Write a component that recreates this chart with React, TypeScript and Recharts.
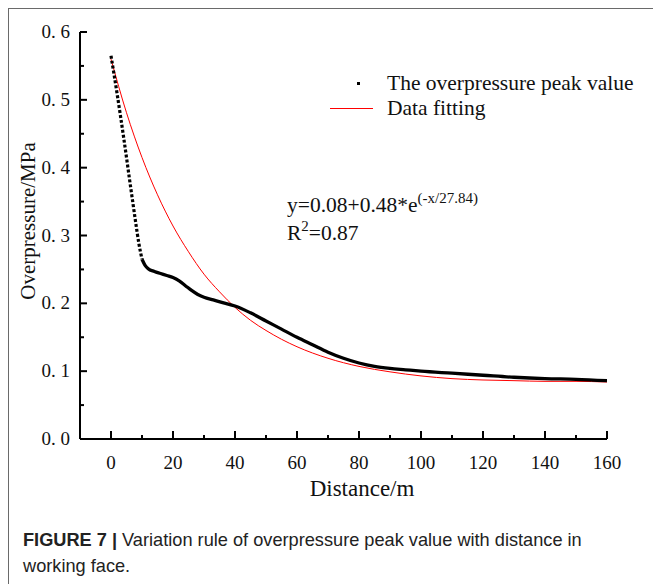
import React from 'react';
import { LineChart, Line, XAxis, YAxis } from 'recharts';

const peakDistance = [0, 1, 2, 3, 4, 5, 6, 7, 8, 9, 10, 11, 12, 14, 16, 18, 20, 22, 24, 26, 28, 30, 33, 36, 40, 45, 50, 55, 60, 65, 70, 75, 80, 85, 90, 95, 100, 110, 120, 130, 140, 150, 160];
const peakValue = [0.565, 0.537, 0.508, 0.478, 0.447, 0.415, 0.382, 0.35, 0.318, 0.288, 0.265, 0.256, 0.251, 0.247, 0.244, 0.241, 0.238, 0.233, 0.226, 0.219, 0.213, 0.209, 0.205, 0.201, 0.196, 0.186, 0.174, 0.162, 0.15, 0.139, 0.128, 0.119, 0.112, 0.107, 0.104, 0.102, 0.1, 0.097, 0.094, 0.091, 0.089, 0.088, 0.086];

// Fitted curve
const fitDistance = [0, 5, 10, 15, 20, 25, 30, 35, 40, 45, 50, 55, 60, 70, 80, 90, 100, 110, 120, 130, 140, 150, 160];
const fitValue = [0.56, 0.481, 0.415, 0.36, 0.314, 0.276, 0.243, 0.217, 0.194, 0.175, 0.16, 0.147, 0.136, 0.119, 0.107, 0.099, 0.093, 0.089, 0.087, 0.086, 0.085, 0.085, 0.084];

const xTicks = [0, 10, 20, 30, 40, 50, 60, 70, 80, 90, 100, 110, 120, 130, 140, 150, 160];
const yTicks = [0, 0.05, 0.1, 0.15, 0.2, 0.25, 0.3, 0.35, 0.4, 0.45, 0.5, 0.55, 0.6];

const seriesNames = ['The overpressure peak value', 'Data fitting'];

const KNEE = 10;
const steepData = peakDistance
  .map((x, i) => ({ x, y: peakValue[i] }))
  .filter((d) => d.x <= KNEE);
const flatData = peakDistance
  .map((x, i) => ({ x, y: peakValue[i] }))
  .filter((d) => d.x >= KNEE);
const fitData = fitDistance.map((x, i) => ({ x, y: fitValue[i] }));

const SERIF = '"Liberation Serif", "Times New Roman", serif';

const XTick = (props: any) => {
  const { x, y, payload } = props;
  const v = payload.value;
  const major = Math.round(v) % 20 === 0;
  return (
    <g>
      <line x1={x} y1={y} x2={x} y2={y - (major ? 8 : 4)} stroke="#000" strokeWidth={2} />
      {major && (
        <text x={x} y={y + 30} textAnchor="middle" fontFamily={SERIF} fontSize={19} fill="#111">
          {v}
        </text>
      )}
    </g>
  );
};

const YTick = (props: any) => {
  const { x, y, payload } = props;
  const v = payload.value;
  const major = Math.abs(Math.round(v * 10) - v * 10) < 1e-6;
  return (
    <g>
      <line x1={x} y1={y} x2={x + (major ? 7 : 4)} y2={y} stroke="#000" strokeWidth={2} />
      {major && (
        <text x={x - 10} y={y + 6} textAnchor="end" fontFamily={SERIF} fontSize={19} fill="#111">
          {v.toFixed(1).replace('.', '. ')}
        </text>
      )}
    </g>
  );
};

export default function App() {
  return (
    <div style={{ position: 'absolute', left: 0, top: 0, width: 653, height: 584, background: '#fff', overflow: 'hidden' }}>
      <div
        style={{
          position: 'absolute',
          left: 8,
          top: 8,
          right: -10,
          bottom: -10,
          borderTop: '1.5px solid #6a6a6a',
          borderLeft: '1.5px solid #6a6a6a',
        }}
      />
      <div style={{ position: 'absolute', left: 0, top: 0 }}>
        <LineChart width={653} height={520} margin={{ top: 32, right: 46, bottom: 0, left: 0 }}>
          <XAxis
            type="number"
            dataKey="x"
            domain={[-10, 160]}
            ticks={xTicks}
            interval={0}
            tickSize={0}
            tickMargin={0}
            tickLine={false}
            axisLine={{ stroke: '#000', strokeWidth: 2 }}
            tick={<XTick />}
            height={81}
            allowDataOverflow
            label={{
              content: () => (
                <text x={362} y={496} textAnchor="middle" fontFamily={SERIF} fontSize={23} fill="#111">
                  Distance/m
                </text>
              ),
            }}
          />
          <YAxis
            type="number"
            dataKey="y"
            domain={[0, 0.6]}
            ticks={yTicks}
            interval={0}
            tickSize={0}
            tickMargin={0}
            tickLine={false}
            axisLine={{ stroke: '#000', strokeWidth: 2 }}
            tick={<YTick />}
            width={80}
            allowDataOverflow
            label={{
              content: () => (
                <text
                  x={28}
                  y={221}
                  transform="rotate(-90 28 221)"
                  textAnchor="middle"
                  dominantBaseline="central"
                  fontFamily={SERIF}
                  fontSize={21}
                  fill="#111"
                >
                  Overpressure/MPa
                </text>
              ),
            }}
          />
          <Line
            data={fitData}
            dataKey="y"
            name={seriesNames[1]}
            type="monotone"
            stroke="#ff0000"
            strokeWidth={1}
            dot={false}
            isAnimationActive={false}
          />
          <Line
            data={steepData}
            dataKey="y"
            name={seriesNames[0]}
            type="monotone"
            stroke="#000"
            strokeWidth={3.2}
            strokeDasharray="3 2"
            dot={false}
            isAnimationActive={false}
          />
          <Line
            data={flatData}
            dataKey="y"
            name={seriesNames[0]}
            type="monotone"
            stroke="#000"
            strokeWidth={3.3}
            dot={false}
            isAnimationActive={false}
          />
        </LineChart>
      </div>
      {/* legend */}
      <div
        style={{
          position: 'absolute',
          left: 330,
          top: 71,
          fontFamily: SERIF,
          fontSize: 21.5,
          color: '#111',
          lineHeight: '25px',
          whiteSpace: 'nowrap',
        }}
      >
        <div style={{ display: 'flex', alignItems: 'center' }}>
          <div style={{ width: 57, display: 'flex', justifyContent: 'center' }}>
            <div style={{ width: 3, height: 3, background: '#000', marginLeft: -1 }} />
          </div>
          <span>{seriesNames[0]}</span>
        </div>
        <div style={{ display: 'flex', alignItems: 'center' }}>
          <div style={{ width: 57, display: 'flex', alignItems: 'center' }}>
            <div style={{ width: 43, height: 1, background: '#ff0000' }} />
          </div>
          <span>{seriesNames[1]}</span>
        </div>
      </div>
      {/* fitted equation */}
      <div
        style={{
          position: 'absolute',
          left: 287,
          top: 192,
          fontFamily: SERIF,
          fontSize: 21.5,
          lineHeight: '26px',
          color: '#111',
          whiteSpace: 'nowrap',
        }}
      >
        <div>
          y=0.08+0.48*e
          <span style={{ fontSize: 15, position: 'relative', top: -9 }}>(-x/27.84)</span>
        </div>
        <div>
          R<span style={{ fontSize: 15, position: 'relative', top: -9 }}>2</span>=0.87
        </div>
      </div>
      {/* caption */}
      <div
        style={{
          position: 'absolute',
          left: 23,
          top: 527,
          fontFamily: '"Liberation Sans", Arial, sans-serif',
          fontSize: 18.2,
          lineHeight: '26px',
          color: '#222',
          whiteSpace: 'nowrap',
        }}
      >
        <div>
          <b>FIGURE 7 |</b> Variation rule of overpressure peak value with distance in
        </div>
        <div>working face.</div>
      </div>
    </div>
  );
}
